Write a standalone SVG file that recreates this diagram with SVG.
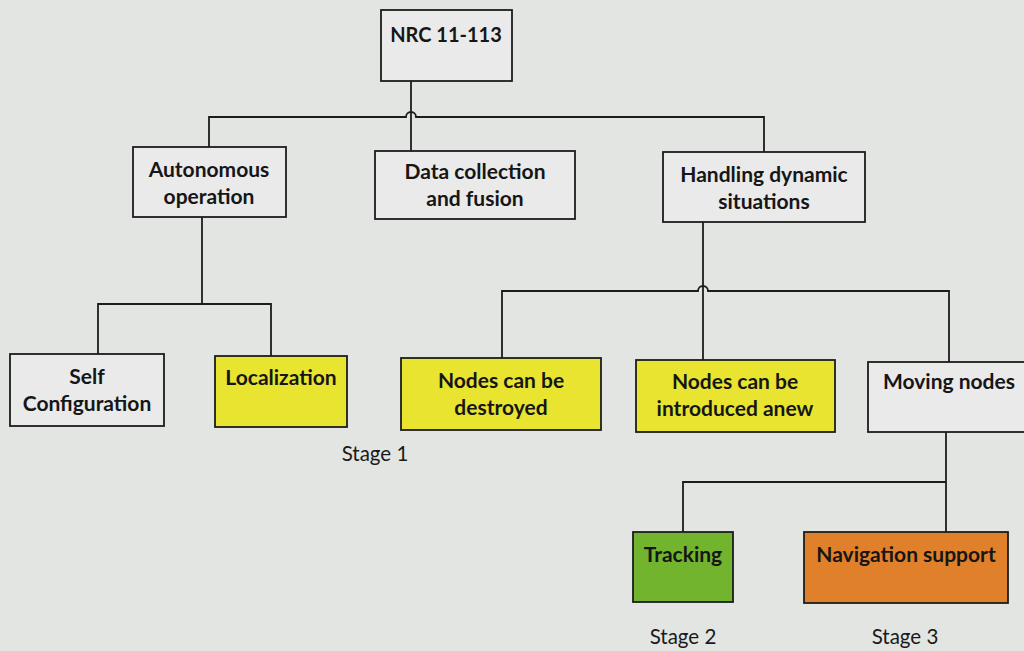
<svg xmlns="http://www.w3.org/2000/svg" width="1024" height="651" viewBox="0 0 1024 651">
<style>
.box{stroke:#1c1c1c;stroke-width:1.8;}
.plain{fill:#e9eae9;}
.yellow{fill:#e8e430;}
.green{fill:#72b42e;}
.orange{fill:#e0802a;}
.t{font-family:Lato,"Open Sans","Liberation Sans",sans-serif;font-weight:bold;font-size:21px;fill:#161616;text-anchor:middle;}
.s{font-family:Lato,"Open Sans","Liberation Sans",sans-serif;font-size:20.5px;fill:#1a1a1a;text-anchor:middle;}
.c{fill:none;stroke:#1c1c1c;stroke-width:1.8;}
</style>
<rect width="1024" height="651" fill="#e3e5e3"/>
<g id="connectors">
<path class="c" d="M411 81 V151"/>
<path class="c" d="M209 147 V117 H406 A5 5 0 0 1 416 117 H764 V152"/>
<path class="c" d="M202 217 V304"/>
<path class="c" d="M98 354 V304 H271 V356"/>
<path class="c" d="M703 222 V360"/>
<path class="c" d="M502 358 V291 H698 A5 5 0 0 1 708 291 H949 V362"/>
<path class="c" d="M946 432 V532"/>
<path class="c" d="M683 532 V482 H946"/>
</g>
<g id="nrc"><rect class="box plain" x="381" y="10" width="131" height="71"/><text class="t" x="446" y="42" style="font-size:20px">NRC 11-113</text></g>
<g id="autonomous"><rect class="box plain" x="133" y="147" width="153" height="70"/><text class="t" x="209" y="177">Autonomous</text><text class="t" x="209" y="204">operation</text></g>
<g id="data"><rect class="box plain" x="375" y="151" width="200" height="68"/><text class="t" x="475" y="179">Data collection</text><text class="t" x="475" y="206">and fusion</text></g>
<g id="handling"><rect class="box plain" x="663" y="152" width="202" height="70"/><text class="t" x="764" y="182">Handling dynamic</text><text class="t" x="764" y="209">situations</text></g>
<g id="self"><rect class="box plain" x="10" y="354" width="154" height="72"/><text class="t" x="87" y="384">Self</text><text class="t" x="87" y="411">Configuration</text></g>
<g id="localization"><rect class="box yellow" x="215" y="356" width="132" height="71"/><text class="t" x="281" y="385">Localization</text></g>
<g id="destroyed"><rect class="box yellow" x="401" y="358" width="200" height="72"/><text class="t" x="501" y="388">Nodes can be</text><text class="t" x="501" y="415">destroyed</text></g>
<g id="anew"><rect class="box yellow" x="636" y="360" width="199" height="72"/><text class="t" x="735" y="389">Nodes can be</text><text class="t" x="735" y="416">introduced anew</text></g>
<g id="moving"><rect class="box plain" x="868" y="362" width="164" height="70"/><text class="t" x="949" y="389">Moving nodes</text></g>
<g id="tracking"><rect class="box green" x="633" y="532" width="100" height="70"/><text class="t" x="683" y="562">Tracking</text></g>
<g id="navigation"><rect class="box orange" x="804" y="532" width="204" height="71"/><text class="t" x="906" y="562">Navigation support</text></g>
<g id="stages">
<text class="s" x="375" y="461">Stage 1</text>
<text class="s" x="683" y="644">Stage 2</text>
<text class="s" x="905" y="644">Stage 3</text>
</g>
</svg>
